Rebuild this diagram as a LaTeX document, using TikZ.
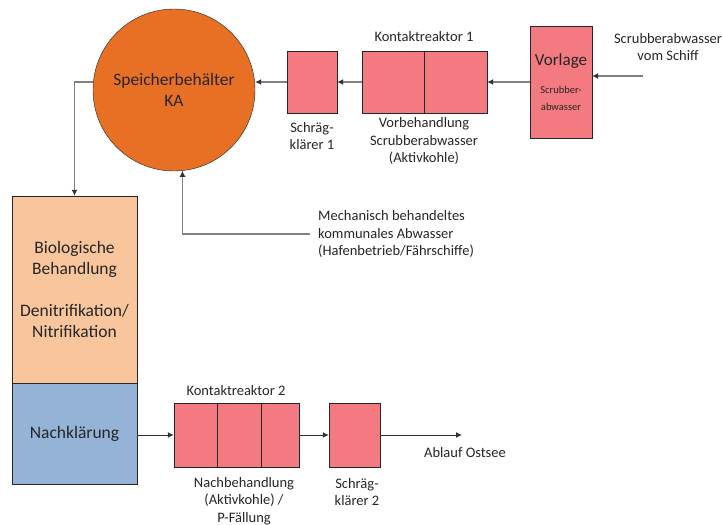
\documentclass[tikz,border=0pt]{standalone}
\usepackage{fontspec}
\setmainfont{Carlito}
\usetikzlibrary{arrows.meta}
\definecolor{tankorange}{HTML}{E87025}
\definecolor{reactpink}{HTML}{F27A80}
\definecolor{biopeach}{HTML}{F9C59C}
\definecolor{nkblue}{HTML}{95B3D7}
\definecolor{pipegray}{HTML}{808080}
\definecolor{pipedark}{HTML}{333333}
\newcommand{\smalltxt}[1]{{\fontsize{10.5}{13}\selectfont #1}}
\begin{document}
\begin{tikzpicture}[x=1pt, y=-1pt]
            \tikzstyle{txt}=[font=\fontsize{14.5}{17.5}\selectfont, text=black!85, align=center, inner sep=0pt]
            \tikzstyle{reactor}=[draw=black!85, fill=reactpink, inner sep=0pt, minimum height=62pt]
            \tikzstyle{basin}=[draw=black!85, inner sep=0pt, minimum width=125pt, font=\fontsize{17.5}{21.5}\selectfont, text=black!85, align=center]
            \tikzstyle{pipe}=[pipegray, line width=1.3pt, -{Latex[length=6pt, width=6pt, color=pipedark]}]
            \tikzstyle{flow}=[pipedark, line width=1pt, -{Latex[length=6pt, width=6pt]}]
            \useasboundingbox (0, 0) rectangle (724, 525);
            % Speicher and top line
            \node [circle, draw=black!85, fill=tankorange, minimum size=162pt, inner sep=0pt, font=\fontsize{17.5}{21.5}\selectfont, text=black!85, align=center] (tank) at (174, 90) {Speicherbehälter\\KA};
            \node [reactor, minimum width=50pt] (s1) at (312, 82) {};
            \node [reactor, minimum width=62pt] (k1a) at (393, 82) {};
            \node [reactor, minimum width=63pt] (k1b) at (455.5, 82) {};
            \node [reactor, minimum width=62pt, minimum height=112pt, font=\fontsize{17}{20}\selectfont, text=black!85, align=center] (vorlage) at (561, 82) {Vorlage\\[8pt]\smalltxt{Scrubber-}\\[-3pt]\smalltxt{abwasser}};
            \node [txt] (s1txt) at (312, 136) {Schräg-\\klärer 1};
            \node [txt] (k1txt) at (424, 37) {Kontaktreaktor 1};
            \node [txt] (vbtxt) at (424, 141) {Vorbehandlung\\Scrubberabwasser\\(Aktivkohle)};
            \node [txt] (intxt) at (668, 47) {Scrubberabwasser\\vom Schiff};
            \coordinate (inlet) at (643, 76);
            \draw [pipe] (inlet) -- (inlet -| vorlage.east);
            \draw [pipe] (vorlage.west) -- (k1b.east);
            \draw [pipe] (k1a.west) -- (s1.east);
            \draw [pipe] (s1.west) -- (s1.west -| tank.east);
            % municipal inflow
            \node [txt, anchor=west, align=left] (mech) at (310, 234) {\hspace{8pt}Mechanisch behandeltes\\\hspace{8pt}kommunales Abwasser\\\hspace{8pt}(Hafenbetrieb/Fährschiffe)};
            \draw [pipe] (mech.west) -| (tank.-84);
            % biology
            \node [basin, fill=biopeach, minimum height=187pt] (bio) at (74.5, 289.5) {Biologische\\Behandlung\\[20pt]Denitrifikation/\\Nitrifikation};
            \node [basin, fill=nkblue, minimum height=101pt, anchor=north] (nk) at (bio.south) {Nachklärung};
            \draw [pipe] (tank.west |- s1.west) -| (bio.north);
            % bottom line
            \node [reactor, minimum width=43pt, minimum height=64pt] (k2a) at (195.5, 435) {};
            \node [reactor, minimum width=44pt, minimum height=64pt] (k2b) at (239, 435) {};
            \node [reactor, minimum width=38pt, minimum height=64pt] (k2c) at (280, 435) {};
            \node [reactor, minimum width=51pt, minimum height=64pt] (s2) at (354.5, 435) {};
            \node [txt] (k2txt) at (236, 391) {Kontaktreaktor 2};
            \node [txt] (nbtxt) at (244, 501) {Nachbehandlung\\(Aktivkohle) /\\P-Fällung};
            \node [txt] (s2txt) at (357, 492) {Schräg-\\klärer 2};
            \coordinate (outlet) at (462, 435);
            \node [txt] (outtxt) at (465, 453) {Ablauf Ostsee};
            \draw [flow] (nk.east |- k2a.west) -- (k2a.west);
            \draw [flow] (k2c.east) -- (s2.west);
            \draw [flow] (s2.east) -- (outlet);
        \end{tikzpicture}
\end{document}
